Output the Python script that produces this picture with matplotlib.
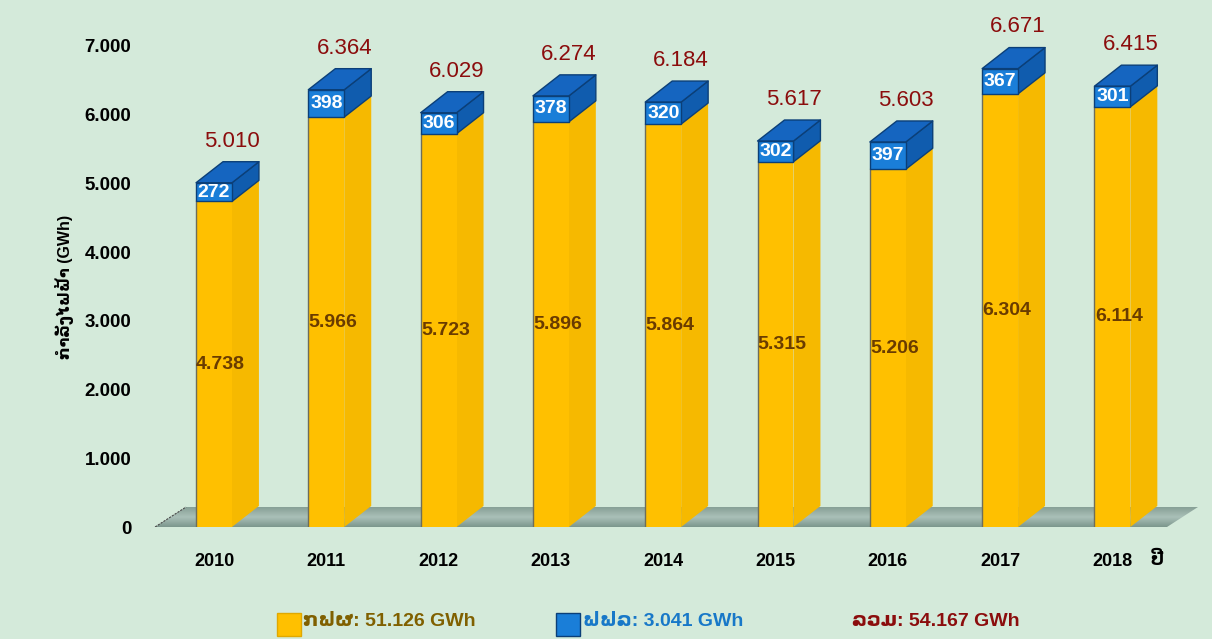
"""Yearly energy by buyer, drawn as stacked pseudo-3D columns."""

import matplotlib
import numpy as np

matplotlib.use("Agg")
import matplotlib.pyplot as plt
from matplotlib.colors import LinearSegmentedColormap
from matplotlib.patches import Polygon, Rectangle

years = ["2010", "2011", "2012", "2013", "2014", "2015", "2016", "2017", "2018"]
egat_gwh = [4738, 5966, 5723, 5896, 5864, 5315, 5206, 6304, 6114]
edl_gwh = [272, 398, 306, 378, 320, 302, 397, 367, 301]
total_gwh = [5010, 6364, 6029, 6274, 6184, 5617, 5603, 6671, 6415]
y_ticks = [0, 1000, 2000, 3000, 4000, 5000, 6000, 7000]
legend_labels = ["ກຟຜ: 51.126 GWh", "ຟຟລ: 3.041 GWh", "ລວມ: 54.167 GWh"]
y_title = "ກຳລັງໄຟຟ້າ (GWh)"
x_unit = "ປີ"

COLORS = {
    "bg": "#d4eada",
    "yellow": "#ffc000",
    "yellow_side": "#f6b900",
    "blue": "#1a7ed8",
    "blue_top": "#1565c0",
    "blue_side": "#105cae",
    "blue_edge": "#0b3f78",
    "brown": "#6a3c00",
    "red": "#8b0d0d",
    "olive": "#806000",
    "legend_blue": "#1878c8",
}

FONT = ["Liberation Sans", "DejaVu Sans"]
plt.rcParams["font.family"] = FONT

# depth of the fake 3D in data units
W = 0.32
DX = 0.24
DY = 306


def _fmt(value):
    return f"{value:,}".replace(",", ".")


def _column(axis, x, y0, y1, front, side, top, edge=None, z=3):
    axis.bar(x, y1 - y0, bottom=y0, width=W, color=front, zorder=z + 0.2,
             edgecolor=edge or "none", linewidth=1.0 if edge else 0)
    right = x + W / 2
    left = x - W / 2
    side_poly = [(right, y0), (right + DX, y0 + DY), (right + DX, y1 + DY), (right, y1)]
    top_poly = [(left, y1), (right, y1), (right + DX, y1 + DY), (left + DX, y1 + DY)]
    kw = dict(edgecolor=edge or "none", linewidth=1.0 if edge else 0, joinstyle="round")
    axis.add_patch(Polygon(side_poly, closed=True, facecolor=side, zorder=z, **kw))
    axis.add_patch(Polygon(top_poly, closed=True, facecolor=top, zorder=z + 0.1, **kw))


def _floor(axis, x0, x1):
    dx, dy = 0.276, 291
    poly = Polygon([(x0, 0), (x1, 0), (x1 + dx, dy), (x0 + dx, dy)], closed=True,
                   facecolor="none", edgecolor="none", zorder=1)
    axis.add_patch(poly)
    cmap = LinearSegmentedColormap.from_list("floor", ["#7c978d", "#aac0b8", "#87a096"])
    grad = np.linspace(0, 1, 64).reshape(-1, 1)
    image = axis.imshow(grad, extent=[x0, x1 + dx, 0, dy], origin="lower", cmap=cmap,
                        aspect="auto", zorder=1)
    image.set_clip_path(poly)
    axis.plot([x0, x0 + dx], [0, dy], color="#4a4a4a", linewidth=0.8,
              linestyle=(0, (2, 1)), zorder=1.5)


def main():
    figure = plt.figure(figsize=(12.12, 6.39), dpi=100, facecolor=COLORS["bg"])
    axis = figure.add_axes([150 / 1212, 112 / 639, 1050 / 1212, 481 / 639])
    axis.set_facecolor("none")
    positions = np.arange(len(years))

    _floor(axis, -0.525, 8.486)

    for x, low, high, total in zip(positions, egat_gwh, edl_gwh, total_gwh):
        _column(axis, x, 0, low, COLORS["yellow"], COLORS["yellow_side"], COLORS["yellow"], z=3)
        axis.plot([x - W / 2, x - W / 2], [0, low], color="#6e6e5a", linewidth=1.0, zorder=3.5)
        _column(axis, x, low, low + high, COLORS["blue"], COLORS["blue_side"],
                COLORS["blue_top"], edge=COLORS["blue_edge"], z=4)
        axis.text(x + 0.06, low / 2, _fmt(low), ha="center", va="center", fontsize=14,
                  fontweight="bold", color=COLORS["brown"], zorder=10)
        axis.text(x, low + high / 2, _fmt(high), ha="center", va="center", fontsize=14,
                  fontweight="bold", color="white", zorder=10)
        axis.text(x + 0.16, total + DY + 300, _fmt(total), ha="center", va="center",
                  fontsize=16, color=COLORS["red"], zorder=10, clip_on=False)

    axis.set_xlim(-0.570, 8.780)
    axis.set_ylim(0, 7000)
    axis.set_yticks(y_ticks, [_fmt(v) for v in y_ticks])
    axis.set_xticks(positions, years)
    axis.tick_params(axis="y", length=0, pad=13.5, labelsize=13.5)
    axis.tick_params(axis="x", length=0, pad=19, labelsize=13)
    for label in axis.get_xticklabels() + axis.get_yticklabels():
        label.set_fontweight("bold")
    for spine in axis.spines.values():
        spine.set_visible(False)

    figure.text(65 / 1212, 1 - 287 / 639, y_title, rotation=90, ha="center", va="center",
                fontsize=11.5, fontweight="bold")
    figure.text(1157 / 1212, 1 - 560 / 639, x_unit, ha="center", va="center",
                fontsize=13, fontweight="bold")

    # legend row along the bottom
    squares = [(277, COLORS["yellow"], "#e0a800"), (556, COLORS["blue"], COLORS["blue_edge"])]
    for left, face, edge in squares:
        figure.add_artist(Rectangle((left / 1212, 3 / 639), 24 / 1212, 23 / 639,
                                    transform=figure.transFigure, facecolor=face,
                                    edgecolor=edge, linewidth=1.0))
    text_spots = [(303, COLORS["olive"]), (583, COLORS["legend_blue"]), (852, COLORS["red"])]
    for (left, color), label in zip(text_spots, legend_labels):
        figure.text(left / 1212, 1 - 622 / 639, label, ha="left", va="center",
                    fontsize=14, fontweight="bold", color=color)

    figure.savefig("out.png", dpi=100, facecolor=COLORS["bg"])
    plt.close(figure)


if __name__ == "__main__":
    main()
